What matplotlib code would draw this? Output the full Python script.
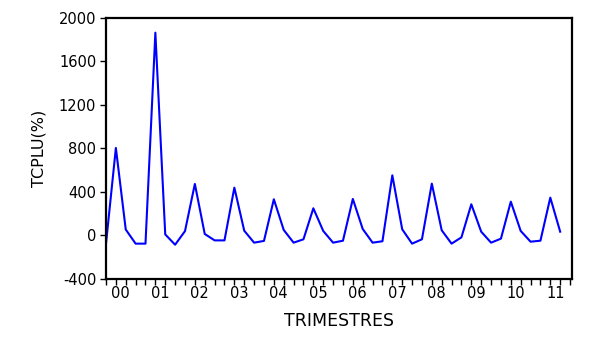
import matplotlib
matplotlib.use('Agg')
import matplotlib.pyplot as plt
import numpy as np

years = ['00', '01', '02', '03', '04', '05', '06', '07', '08', '09', '10', '11']
# quarterly values, 2000Q1 .. 2011Q3
tcplu = [-75, 805, 55, -75,
         -75, 1865, 10, -85,
         40, 474, 14, -45,
         -45, 440, 44, -66,
         -50, 333, 51, -66,
         -35, 250, 42, -66,
         -48, 336, 60, -66,
         -53, 553, 57, -75,
         -35, 477, 48, -75,
         -17, 287, 35, -66,
         -29, 311, 42, -57,
         -48, 348, 35]
y_ticks = [-400, 0, 400, 800, 1200, 1600, 2000]


def main():
    plt.rcParams['font.family'] = ['DejaVu Sans']
    fig = plt.figure(figsize=(6.05, 3.44), dpi=100)
    ax = fig.add_axes([0.1752, 0.189, 0.7703, 0.7587])

    x = np.arange(len(tcplu))
    ax.plot(x, tcplu, color='#0000ff', linewidth=1.5)

    ax.set_xlim(0, 47.2)
    ax.set_ylim(-400, 2000)
    ax.set_yticks(y_ticks)
    ax.set_yticklabels([str(v) for v in y_ticks], fontsize=10.5)

    # a tick for every quarter, labels at the middle of each year
    ax.set_xticks(np.arange(0, 48))
    ax.set_xticklabels([])
    ax.set_xticks(np.arange(len(years)) * 4 + 1.5, minor=True)
    ax.set_xticklabels(years, minor=True, fontsize=10.5)
    ax.tick_params(axis='x', which='major', direction='out', length=4, width=1)
    ax.tick_params(axis='x', which='minor', length=0, pad=5)
    ax.tick_params(axis='y', direction='out', length=4, width=1, pad=3)

    for sp in ax.spines.values():
        sp.set_linewidth(1.6)

    ax.set_xlabel('TRIMESTRES', fontsize=12.5, labelpad=8)
    ax.set_ylabel('TCPLU(%)', fontsize=11.5, labelpad=9)

    fig.savefig('out.png', dpi=100)


if __name__ == "__main__":
    main()
